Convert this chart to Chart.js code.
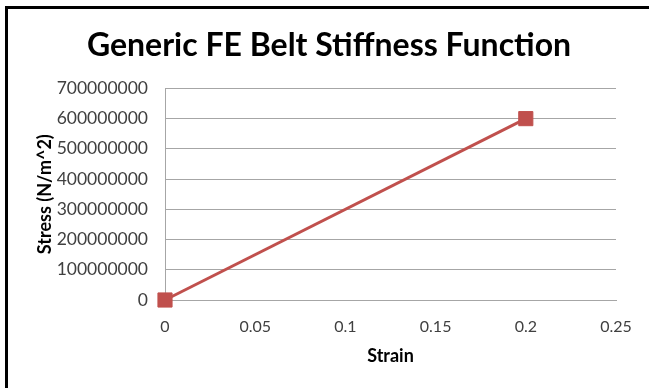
<!DOCTYPE html>
<html>
<head>
<meta charset="utf-8">
<script src="https://cdn.jsdelivr.net/npm/chart.js@4"></script>
<style>
  html, body { margin: 0; padding: 0; background: #fff; }
  #wrap { position: relative; width: 649px; height: 388px; overflow: hidden; }
  #frame { position: absolute; left: 5px; top: 6px; width: 700px; height: 400px;
           border-left: 3px solid #000; border-top: 3px solid #000; pointer-events: none; }
  canvas { display: block; }
</style>
</head>
<body>
<div id="wrap">
  <canvas id="c" width="649" height="388"></canvas>
  <div id="frame"></div>
</div>
<script>
// Belt material curve: strain vs. stress
const strain = [0, 0.2];
const stress = [0, 600000000];
const chartTitle = 'Generic FE Belt Stiffness Function';
const xTitle = 'Strain';
const yTitle = 'Stress (N/m^2)';

const red = '#C0504D';
const gridGray = '#A6A6A6';
const textColor = '#404040';
const fontFamily = 'Lato, "Open Sans", sans-serif';

const points = strain.map((s, i) => ({ x: s, y: stress[i] }));

new Chart(document.getElementById('c'), {
  type: 'scatter',
  data: {
    datasets: [{
      data: points,
      showLine: true,
      clip: false,
      borderColor: red,
      borderWidth: 3,
      backgroundColor: red,
      pointStyle: 'rect',
      pointRadius: 10,
      pointBorderWidth: 1,
      pointBorderColor: red,
      pointBackgroundColor: red
    }]
  },
  options: {
    responsive: false,
    animation: false,
    layout: { padding: { left: 42, right: 33, top: 0, bottom: 12 } },
    plugins: {
      legend: { display: false },
      tooltip: { enabled: false },
      title: {
        display: true,
        text: chartTitle,
        color: '#000',
        font: { family: fontFamily, size: 32, weight: 'bold' },
        padding: { top: 26, bottom: 24 }
      }
    },
    scales: {
      x: {
        type: 'linear',
        min: 0,
        max: 0.25,
        ticks: {
          stepSize: 0.05,
          color: textColor,
          font: { family: fontFamily, size: 16 },
          padding: 17,
          callback: v => String(+v.toFixed(2))
        },
        grid: { display: false, drawTicks: false },
        border: { display: true, color: gridGray, width: 1 },
        title: {
          display: true,
          text: xTitle,
          color: '#000',
          font: { family: fontFamily, size: 18, weight: 'bold' },
          padding: { top: 0, bottom: 9 }
        },
        afterFit: s => { s.height = 76; }
      },
      y: {
        type: 'linear',
        min: 0,
        max: 700000000,
        ticks: {
          stepSize: 100000000,
          color: textColor,
          font: { family: fontFamily, size: 17.5 },
          padding: 17,
          callback: v => String(v)
        },
        grid: { color: gridGray, drawTicks: false, lineWidth: 1 },
        border: { display: true, color: gridGray, width: 1 },
        title: {
          display: true,
          text: yTitle,
          color: '#000',
          font: { family: fontFamily, size: 18, weight: 'bold' },
          padding: { top: -8, bottom: 0 }
        },
        afterFit: s => { s.width = 123; }
      }
    }
  }
});
</script>
</body>
</html>
